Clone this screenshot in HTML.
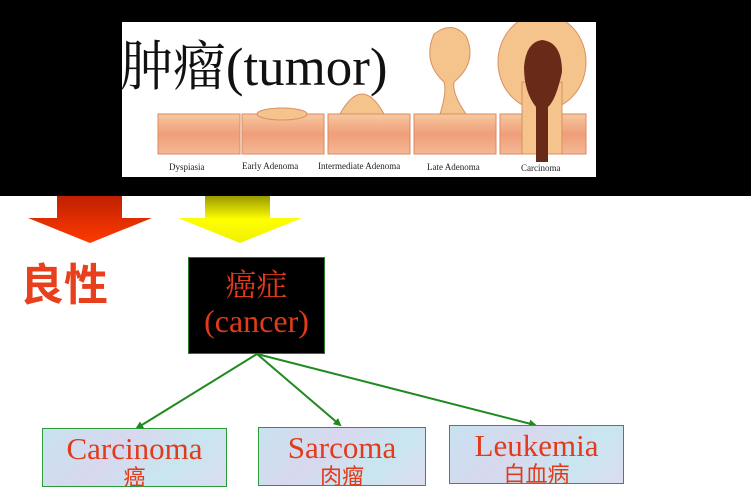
<!DOCTYPE html>
<html><head><meta charset="utf-8"><style>
body{margin:0;width:751px;height:499px;background:#fff;position:relative;overflow:hidden;font-family:"Liberation Serif","Noto Serif CJK SC",serif}
.abs{position:absolute}
.box{position:absolute;border:1px solid #2a9a3a;background:linear-gradient(135deg,#c8e2f0,#d8d8ee 40%,#c8e6f0 70%,#dcdcf0);text-align:center;color:#e23a1a}
.lbl{font-size:31px;line-height:32px;margin-top:4px}
.sub{font-size:22px;line-height:22px;font-family:"Noto Sans CJK SC",sans-serif}
</style></head><body>
<div class="abs" style="left:0;top:0;width:751px;height:196px;background:#000"></div>
<div class="abs" style="left:122px;top:22px;width:474px;height:155px;background:#fff;overflow:hidden">
 <div class="abs" style="left:-2px;top:2px;font-size:54px;color:#111;font-family:'Liberation Serif','Noto Serif CJK SC',serif;white-space:nowrap;transform:scaleX(0.98);transform-origin:left">肿瘤(tumor)</div>
 <svg class="abs" style="left:0;top:0" width="474" height="155">
  <defs><linearGradient id="t" x1="0" y1="0" x2="0" y2="1"><stop offset="0" stop-color="#f7c9a0"/><stop offset=".5" stop-color="#ef9e78"/><stop offset="1" stop-color="#f4b896"/></linearGradient></defs>
  <g fill="url(#t)" stroke="#d88a60" stroke-width="1">
   <rect x="36" y="92" width="82" height="40"/><rect x="120" y="92" width="82" height="40"/><rect x="206" y="92" width="82" height="40"/><rect x="292" y="92" width="82" height="40"/><rect x="378" y="92" width="86" height="40"/>
  </g>
  <g fill="#f4c48c" stroke="#d89060">
   <ellipse cx="160" cy="92" rx="25" ry="6"/>
   <path d="M218 92 Q240 52 262 92Z"/>
   <path d="M318 92 Q325 70 322 60 Q300 40 312 12 Q330 -2 344 14 Q356 40 332 60 Q330 72 344 92Z"/>
   <ellipse cx="420" cy="40" rx="44" ry="48"/>
   <rect x="400" y="60" width="40" height="72"/>
  </g>
  <path d="M420 18 Q440 20 440 50 Q434 78 426 85 L426 140 L414 140 L414 85 Q402 70 402 45 Q404 20 420 18Z" fill="#6a2a18"/>
  <g font-family="Liberation Serif" font-size="9" fill="#222">
   <text x="47" y="148">Dyspiasia</text><text x="120" y="147">Early Adenoma</text><text x="196" y="147">Intermediate Adenoma</text><text x="305" y="148">Late Adenoma</text><text x="399" y="149">Carcinoma</text>
  </g>
 </svg>
</div>
<svg class="abs" style="left:0;top:0" width="751" height="499">
 <defs>
  <linearGradient id="r" x1="0" y1="0" x2="0" y2="1"><stop offset="0" stop-color="#c02000"/><stop offset="1" stop-color="#ff3a00"/></linearGradient>
  <linearGradient id="y" x1="0" y1="0" x2="0" y2="1"><stop offset="0" stop-color="#9a9a00"/><stop offset=".5" stop-color="#ffff00"/><stop offset="1" stop-color="#f0f000"/></linearGradient>
  <marker id="a" markerWidth="8" markerHeight="8" refX="6" refY="4" orient="auto" markerUnits="userSpaceOnUse"><path d="M0 0 L8 4 L0 8Z" fill="#1f8a1f"/></marker>
 </defs>
 <path d="M57 196 H122 V218 H152 L90 243 L28 218 H57Z" fill="url(#r)"/>
 <path d="M205 196 H270 V218 H302 L240 243 L178 218 H205Z" fill="url(#y)"/>
 <g stroke="#1f8a1f" stroke-width="2" marker-end="url(#a)">
  <line x1="257" y1="354" x2="137" y2="428"/>
  <line x1="257" y1="354" x2="340" y2="425"/>
  <line x1="257" y1="354" x2="535" y2="425"/>
 </g>
</svg>
<div class="abs" style="left:20px;top:251px;font-size:44px;color:#e8401c;font-family:'Noto Sans CJK SC',sans-serif;font-weight:bold;line-height:60px">良性</div>
<div class="abs" style="left:188px;top:257px;width:135px;height:95px;background:#000;border:1px solid #2a7a2a;text-align:center;color:#e23a1a">
 <div style="font-size:31px;line-height:38px;margin-top:6px;font-family:'Noto Serif CJK SC',serif">癌症</div>
 <div style="font-size:32px;line-height:38px">(cancer)</div>
</div>
<div class="box" style="left:42px;top:428px;width:183px;height:57px"><div class="lbl">Carcinoma</div><div class="sub">癌</div></div>
<div class="box" style="left:258px;top:427px;width:166px;height:57px"><div class="lbl">Sarcoma</div><div class="sub">肉瘤</div></div>
<div class="box" style="left:449px;top:425px;width:173px;height:57px"><div class="lbl">Leukemia</div><div class="sub">白血病</div></div>
</body></html>
